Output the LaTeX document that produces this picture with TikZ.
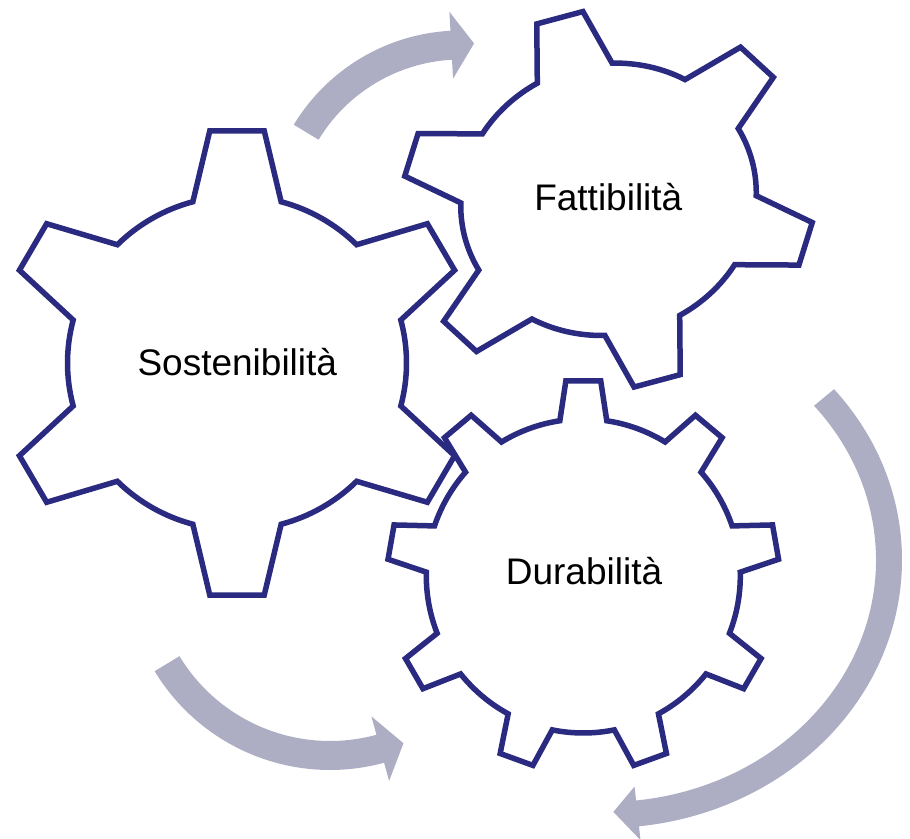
\documentclass[tikz,border=0pt]{standalone}
\usepackage{fontspec}
\setmainfont{Liberation Sans}
\definecolor{gearblue}{RGB}{42,42,128}
\definecolor{arrowgray}{RGB}{173,174,196}
% #1 scope options, #2 teeth, #3 first tooth angle, #4 root radius, #5 tip radius, #6 root half angle, #7 tip half angle
\newcommand\gearshape[7]{%
  \begin{scope}[#1]
    \draw[gearline] ({#3-#6}:#4)
      \foreach \k [evaluate=\k as \ang using #3+(\k-1)*360/#2] in {1,...,#2}{
        -- ({\ang-#7}:#5) -- ({\ang+#7}:#5) -- ({\ang+#6}:#4)
        arc[start angle={\ang+#6}, end angle={\ang+360/#2-#6}, radius=#4]
      } -- cycle;
  \end{scope}}
\begin{document}
\begin{tikzpicture}[x=1pt,y=1pt,
  gearline/.style={draw=gearblue, line width=5.5pt},
  cyclearrow/.style={fill=arrowgray, draw=none},
  gearlabel/.style={font=\fontsize{37}{44}\selectfont, text=black, inner sep=0pt}]
\useasboundingbox (0,0) rectangle (910,838);
\clip (0,0) rectangle (910,838);

% arrow top
\begin{scope}[shift={(461,612)}]
  \fill[cyclearrow] (148.8:195.5) arc[start angle=148.8, end angle=93.1, radius=195.5]
    -- (93.1:214.5) -- (85.9:183) -- (93.1:147.5) -- (93.1:166.5)
    arc[start angle=93.1, end angle=148.8, radius=166.5] -- cycle;
\end{scope}

% arrow right
\begin{scope}[shift={(606,278)}]
  \fill[cyclearrow] (39.6:296 and 268) arc[start angle=39.6, end angle=-83.6, x radius=296, y radius=268]
    -- (-83.6:310 and 282) -- (-88.5:280 and 252) -- (-83.6:256 and 228) -- (-83.6:270 and 242)
    arc[start angle=-83.6, end angle=39.6, x radius=270, y radius=242] -- cycle;
\end{scope}

% arrow bottom left
\begin{scope}[shift={(330,273)}]
  \fill[cyclearrow] (211.2:205) arc[start angle=211.2, end angle=285.3, radius=205]
    -- (285.3:224) -- (292.4:192.8) -- (285.3:157) -- (285.3:176)
    arc[start angle=285.3, end angle=211.2, radius=176] -- cycle;
\end{scope}

% gears
\gearshape{shift={(237,475)}, xscale=1.015}{6}{90}{167}{233.6}{15.1}{6.6}
\gearshape{shift={(608.5,638.7)}, rotate=15, xscale=0.89, yscale=0.81}{6}{90}{167}{233.6}{15.1}{6.6}
\gearshape{shift={(583.3,262)}}{9}{90}{157}{196}{8.6}{5.1}

\node[gearlabel] (sost) at (237.3,476.3) {Sostenibilità};
\node[gearlabel] (fatt) at (608.3,640.5) {Fattibilità};
\node[gearlabel] (dura) at (584,267.2) {Durabilità};
\end{tikzpicture}
\end{document}
